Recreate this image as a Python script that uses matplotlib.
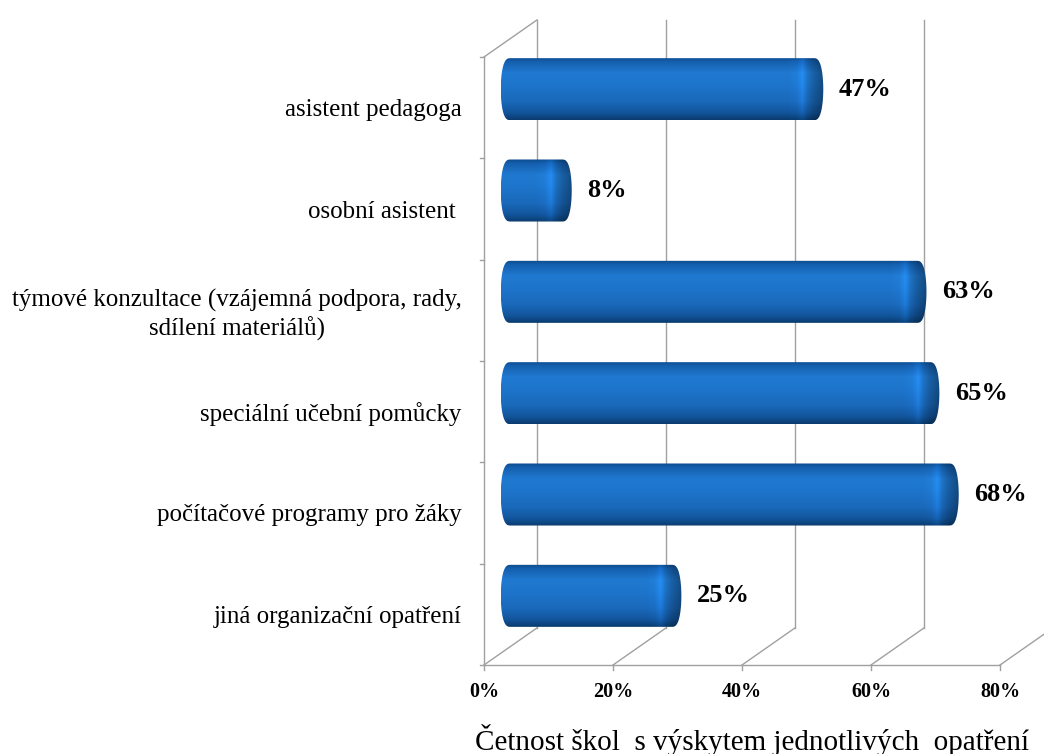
import numpy as np
import matplotlib.pyplot as plt
from matplotlib.path import Path
from matplotlib.patches import PathPatch
from matplotlib.colors import to_rgb

plt.rcParams['font.family'] = ['Liberation Serif', 'DejaVu Serif']

categories = ['asistent pedagoga',
              'osobní asistent ',
              'týmové konzultace (vzájemná podpora, rady,\nsdílení materiálů)',
              'speciální učební pomůcky',
              'počítačové programy pro žáky',
              'jiná organizační opatření']
values = [47, 8, 63, 65, 68, 25]
xticks = [0, 20, 40, 60, 80]
xticklabels = ['0%', '20%', '40%', '60%', '80%']
xtitle = 'Četnost škol  s výskytem jednotlivých  opatření'

# 3D look: depth offset of the back wall (in data units)
DX, DY = 8.2, 0.365
half_h = 0.306   # cylinder radius (y units)
cap_a = 1.5      # rounded end half-width (x units)
px_per_x = 6.45  # pixels per percent
grid_col = '#a0a0a0'

stops = [(0.0, '#0b4a8a'), (0.07, '#155fae'), (0.25, '#2079d0'), (0.42, '#1e76cc'),
         (0.7, '#1a69bb'), (0.88, '#12559c'), (1.0, '#0a3b6e')]
t = np.linspace(0, 1, 200)
vgrad = np.zeros((200, 3))
for k in range(3):
    vgrad[:, k] = np.interp(t, [s[0] for s in stops], [to_rgb(s[1])[k] for s in stops])


def end_shade(d):
    # brightness factor by pixel distance from the right end of a cylinder
    return np.interp(d, [0, 4, 10, 16, 21, 27, 36, 1000],
                     [0.62, 0.7, 0.8, 0.95, 1.17, 1.04, 1.0, 1.0])


fig = plt.figure(figsize=(10.44, 7.54), dpi=100)
ax = fig.add_axes([484 / 1044, 89 / 754, 516 / 1044, 608 / 754])
n = len(categories)
ax.set_xlim(0, 80)
ax.set_ylim(0, n)
for s in ax.spines.values():
    s.set_visible(False)

# walls and floor
for x in xticks:
    ax.plot([x + DX, x + DX], [DY, n + DY], color=grid_col, lw=1, clip_on=False, zorder=1)
    ax.plot([x, x + DX], [0, DY], color=grid_col, lw=1, clip_on=False, zorder=1)
    ax.plot([x, x], [0, -0.05], color=grid_col, lw=1, clip_on=False, zorder=1)
ax.plot([0, DX], [n, n + DY], color=grid_col, lw=1, clip_on=False, zorder=1)
ax.plot([0, 0], [0, n], color=grid_col, lw=1, clip_on=False, zorder=2)
ax.plot([0, 80], [0, 0], color=grid_col, lw=1, clip_on=False, zorder=2)
for j in range(n + 1):
    ax.plot([-0.6, 0], [j, j], color=grid_col, lw=1, clip_on=False, zorder=2)

# cylinders with rounded ends
th = np.linspace(-np.pi / 2, np.pi / 2, 60)
ex = np.sign(np.cos(th)) * np.abs(np.cos(th)) ** 0.7
ey = np.sin(th)
for i, v in enumerate(values):
    yc = n - 1 - i + 0.5 + DY / 2
    x0 = DX / 2
    x1 = DX / 2 + v
    right = np.column_stack([x1 + cap_a * ex, yc + half_h * ey])
    left = np.column_stack([x0 - cap_a * ex[::-1], yc + half_h * ey[::-1]])
    pts = np.vstack([right, left, right[:1]])
    body = PathPatch(Path(pts, closed=True), facecolor='none', edgecolor='none',
                     transform=ax.transData)
    ax.add_patch(body)
    xs = np.linspace(x0 - cap_a, x1 + cap_a, 400)
    f = end_shade((x1 + cap_a - xs) * px_per_x)
    img = np.clip(vgrad[:, None, :] * f[None, :, None], 0, 1)
    im = ax.imshow(img, extent=(x0 - cap_a, x1 + cap_a, yc - half_h, yc + half_h),
                   aspect='auto', interpolation='bilinear', zorder=3)
    im.set_clip_path(body)
    ax.text(x1 + cap_a + 2.4, yc, f'{v}%', ha='left', va='center',
            fontsize=19, fontweight='bold', zorder=6)

ax.set_xticks(xticks)
ax.set_xticklabels(xticklabels, fontsize=14.5, fontweight='bold')
ax.set_yticks([n - 1 - i + 0.5 for i in range(n)])
ax.set_yticklabels(categories, fontsize=18, multialignment='center')
ax.tick_params(axis='both', length=0)
ax.tick_params(axis='x', pad=12)
ax.tick_params(axis='y', pad=16)

fig.text(752 / 1044, 14 / 754, xtitle, ha='center', va='center', fontsize=21)

fig.savefig('out.png', dpi=100)
